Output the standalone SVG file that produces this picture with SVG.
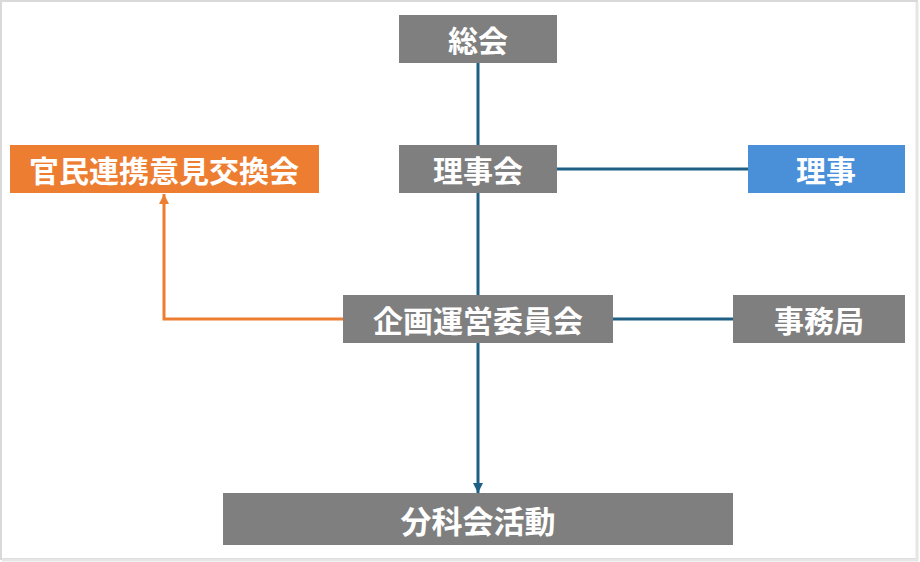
<svg xmlns="http://www.w3.org/2000/svg" width="920" height="562" viewBox="0 0 920 562">
<defs>
<style>
.box{stroke:none}
.g{fill:#7f7f7f}
.o{fill:#ED7D31}
.b{fill:#4A90D9}
.t{fill:#ffffff;font-family:"Noto Sans CJK JP","Noto Sans",sans-serif;font-weight:bold;font-size:30px;text-anchor:middle;dominant-baseline:central}
.ln{fill:none;stroke:#1F5F84;stroke-width:3}
.lo{fill:none;stroke:#ED7D31;stroke-width:3}
</style>
<marker id="ab" viewBox="0 0 10 10" refX="10" refY="5" markerWidth="10" markerHeight="10" markerUnits="userSpaceOnUse" orient="auto"><path d="M0,0 L10,5 L0,10 z" fill="#1F5F84"/></marker>
<marker id="ao" viewBox="0 0 10 10" refX="10" refY="5" markerWidth="10" markerHeight="10" markerUnits="userSpaceOnUse" orient="auto"><path d="M0,0 L10,5 L0,10 z" fill="#ED7D31"/></marker>
</defs>
<rect x="0" y="0" width="920" height="562" fill="#ffffff"/>
<rect x="1" y="1" width="916" height="558" fill="none" stroke="#d9d9d9" stroke-width="2"/>
<path d="M917,2 V560 H2" fill="none" stroke="#e6e6e6" stroke-width="3"/>
<g id="connectors">
<line class="ln" x1="478" y1="63" x2="478" y2="145"/>
<line class="ln" x1="557" y1="169" x2="748" y2="169"/>
<line class="ln" x1="478" y1="193" x2="478" y2="295"/>
<line class="ln" x1="613" y1="319" x2="733" y2="319"/>
<line class="ln" x1="478" y1="343" x2="478" y2="493" marker-end="url(#ab)"/>
<path class="lo" d="M343,319 H164 V194" marker-end="url(#ao)"/>
</g>
<g id="n-soukai"><rect class="box g" x="399" y="15" width="158" height="48"/><text class="t" x="478" y="39">総会</text></g>
<g id="n-rijikai"><rect class="box g" x="399" y="145" width="158" height="48"/><text class="t" x="478" y="169">理事会</text></g>
<g id="n-riji"><rect class="box b" x="748" y="145" width="157" height="48"/><text class="t" x="826" y="169">理事</text></g>
<g id="n-kanmin"><rect class="box o" x="10" y="145" width="309" height="48"/><text class="t" x="164" y="169">官民連携意見交換会</text></g>
<g id="n-kikaku"><rect class="box g" x="343" y="295" width="270" height="48"/><text class="t" x="478" y="319">企画運営委員会</text></g>
<g id="n-jimukyoku"><rect class="box g" x="733" y="295" width="172" height="48"/><text class="t" x="819" y="319">事務局</text></g>
<g id="n-bunkakai"><rect class="box g" x="223" y="493" width="510" height="52"/><text class="t" x="478" y="519" style="font-size:31px">分科会活動</text></g>
</svg>
